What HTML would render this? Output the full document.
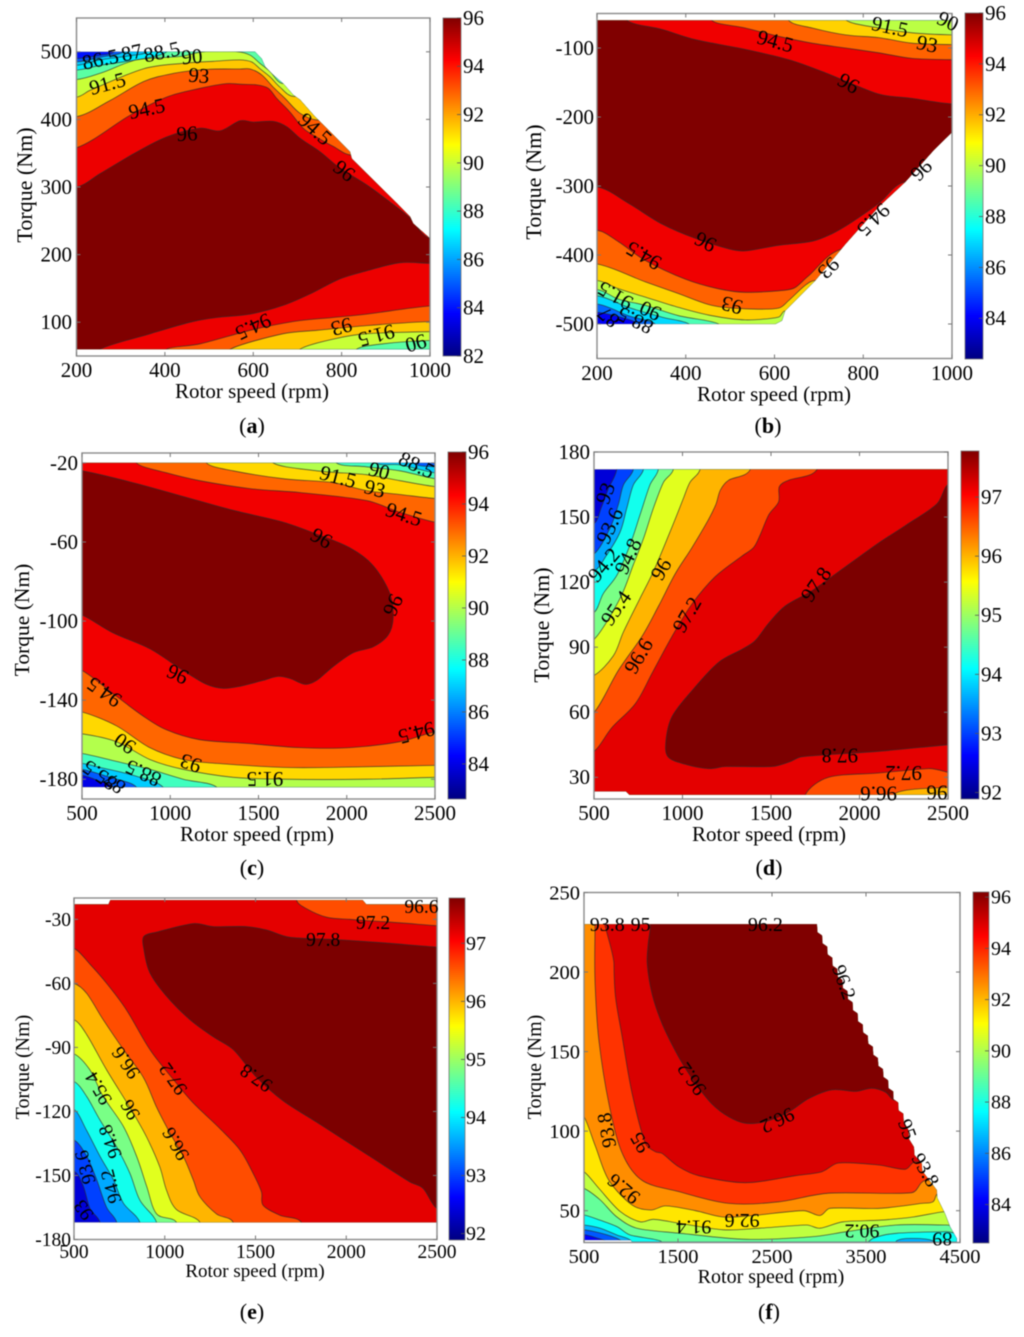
<!DOCTYPE html>
<html lang="en">
<head>
<meta charset="utf-8">
<title>Efficiency contour maps</title>
<style>
html,body{margin:0;padding:0;background:#fff;}
svg{display:block;font-family:"Liberation Serif","Times New Roman",serif;fill:#000;filter:blur(0.4px);}
.caption{font-size:22px;text-anchor:middle;}
.caption tspan.bold{font-weight:bold;}
.xtitle{text-anchor:middle;}
.ytitle{text-anchor:middle;}
</style>
</head>
<body>
<svg id="figure" width="1024" height="1337" viewBox="0 0 1024 1337" xmlns="http://www.w3.org/2000/svg">
<defs>
<linearGradient id="jetGradient" x1="0" y1="1" x2="0" y2="0">
<stop offset="0" stop-color="#000080"/>
<stop offset="0.125" stop-color="#0000ff"/>
<stop offset="0.375" stop-color="#00ffff"/>
<stop offset="0.625" stop-color="#ffff00"/>
<stop offset="0.875" stop-color="#ff0000"/>
<stop offset="1" stop-color="#800000"/>
</linearGradient>
</defs>
<rect x="0" y="0" width="1024" height="1337" fill="#ffffff"/>

<g id="panel-a">
<text class="xtitle" x="252" y="398" font-size="21">Rotor speed (rpm)</text>
<text class="ytitle" transform="translate(32 185) rotate(-90)" font-size="22">Torque (Nm)</text>
<text class="caption" x="252" y="433">(<tspan class="bold">a</tspan>)</text>
</g>
<g id="panel-b">
<text class="xtitle" x="774" y="401" font-size="21">Rotor speed (rpm)</text>
<text class="ytitle" transform="translate(541 182) rotate(-90)" font-size="22">Torque (Nm)</text>
<text class="caption" x="768" y="433">(<tspan class="bold">b</tspan>)</text>
</g>
<g id="panel-c">
<text class="xtitle" x="257" y="841" font-size="21">Rotor speed (rpm)</text>
<text class="ytitle" transform="translate(29 620) rotate(-90)" font-size="21.5">Torque (Nm)</text>
<text class="caption" x="252" y="875">(<tspan class="bold">c</tspan>)</text>
</g>
<g id="panel-d">
<text class="xtitle" x="769" y="841" font-size="21">Rotor speed (rpm)</text>
<text class="ytitle" transform="translate(549 625) rotate(-90)" font-size="22">Torque (Nm)</text>
<text class="caption" x="769" y="875">(<tspan class="bold">d</tspan>)</text>
</g>
<g id="panel-e">
<text class="xtitle" x="255" y="1277" font-size="19">Rotor speed (rpm)</text>
<text class="ytitle" transform="translate(29 1067) rotate(-90)" font-size="20">Torque (Nm)</text>
<text class="caption" x="252" y="1319">(<tspan class="bold">e</tspan>)</text>
</g>
<g id="panel-f">
<text class="xtitle" x="771" y="1283" font-size="20">Rotor speed (rpm)</text>
<text class="ytitle" transform="translate(541 1067) rotate(-90)" font-size="20">Torque (Nm)</text>
<text class="caption" x="769" y="1319">(<tspan class="bold">f</tspan>)</text>
</g>
</svg>

<script>
/* ---------- panel (a) ---------- */
const aXTicks=[200,400,600,800,1000];
const aYTicks=[100,200,300,400,500];
const aBarTicks=[82,84,86,88,90,92,94,96];
const aLevels=[84,85,86.5,87,88.5,90,91.5,93,94.5,96];
const aDomain=[[200,60],[1000,60],[1000,224],[962,246],[955,256],[925,276],[894,296],[857,320],[823,342],[819,352],[774,382],[740,404],[706,429],[691,436],[668,453],[645,466],[627,478],[619,490],[604,500],[200,500]];
const aRegion85=[[200,490],[254,495],[285,500],[285,520],[1100,520],[1100,40],[100,40],[100,490]];
const aRegion865=[[200,485],[254,492],[306,500],[306,520],[1100,520],[1100,40],[100,40],[100,485]];
const aRegion87=[[200,480],[254,488],[329,495],[359,500],[359,520],[1100,520],[1100,40],[100,40],[100,480]];
const aRegion885=[[200,473],[254,480],[352,490],[404,500],[404,520],[1100,520],[1100,40],[100,40],[100,473]];
const aRegion90=[[200,459],[261,470],[336,488],[434,493],[487,500],[565,500],[593,495],[615,483],[638,471],[668,453],[1100,453],[1100,73],[1000,73],[894,68],[834,60],[834,40],[100,40],[100,459]];
const aRegion915=[[200,433],[231,443],[352,475],[442,483],[510,486],[570,488],[596,485],[615,475],[638,463],[660,448],[691,434],[1100,434],[1100,86],[1000,86],[857,83],[781,75],[706,60],[706,40],[100,40],[100,433]];
const aRegion93=[[200,404],[276,428],[352,456],[419,468],[495,474],[570,474.5],[593,474.5],[619,466],[645,448],[672,431],[706,409],[747,399],[1100,399],[1100,101],[1000,101],[857,95],[744,88],[668,83],[548,60],[548,40],[100,40],[100,404]];
const aRegion945=[[200,358],[321,406],[404,433],[480,446],[540,453],[570,452],[608,451],[634,446],[653,431],[683,411],[713,387],[743,374],[781,360],[823,347],[1100,347],[1100,124],[1000,124],[857,112],[781,107],[691,101],[593,88],[480,68],[404,60],[404,40],[100,40],[100,358]];
const aRegion96=[[200,300],[254,320],[329,349],[404,374],[480,387],[525,383],[570,398],[600,396],[645,397],[676,389],[706,372],[751,352],[796,328],[857,303],[909,278],[955,254],[1000,224],[1100,224],[1100,187],[1000,187],[932,188],[857,176],[796,164],[729,142],[668,125],[593,112],[517,107],[457,100],[367,83],[254,60],[254,40],[100,40],[100,300]];
const aRegions=[aRegion85,aRegion865,aRegion87,aRegion885,aRegion90,aRegion915,aRegion93,aRegion945,aRegion96];
const aLabels=[['86.5',254,489,-12],['87',325,499,-12],['88.5',393,500,-12],['90',461,493,-5],['91.5',270,453,-15],['93',477,465,5],['94.5',359,416,-12],['96',450,379,-3],['94.5',740,386,42],['96',806,324,38],['94.5',600,93,155],['93',800,93,165],['91.5',879,80,165],['90',968,69,165]];

/* ---------- panel (b) ---------- */
const bXTicks=[200,400,600,800,1000];
const bYTicks=[-100,-200,-300,-400,-500];
const bBarTicks=[84,86,88,90,92,94,96];
const bLevels=[84,85.5,87,88.5,90,91.5,93,94.5,96];
const bDomain=[[200,-60],[1000,-60],[1000,-222],[959,-248],[895,-294],[835,-330],[760,-384],[692,-437],[624,-481],[617,-495],[602,-500],[200,-500]];
const bRegion855=[[200,-483],[279,-495],[286,-500],[286,-520],[1100,-520],[1100,-30],[100,-30],[100,-483]];
const bRegion87=[[200,-471],[271,-488],[331,-500],[331,-520],[1100,-520],[1100,-30],[100,-30],[100,-471]];
const bRegion885=[[200,-459],[271,-476],[346,-490],[407,-500],[407,-520],[1100,-520],[1100,-30],[100,-30],[100,-459]];
const bRegion90=[[200,-450],[249,-464],[309,-473],[384,-488],[474,-500],[474,-520],[1100,-520],[1100,-30],[100,-30],[100,-450]];
const bRegion915=[[200,-437],[249,-449],[309,-461],[384,-476],[459,-488],[534,-494],[609,-490],[624,-481],[1100,-481],[1100,-81],[1000,-81],[910,-78],[835,-71],[760,-59],[760,-30],[100,-30],[100,-437]];
const bRegion93=[[200,-413],[309,-439],[384,-456],[459,-473],[534,-478],[609,-477],[632,-466],[669,-444],[692,-437],[1100,-437],[1100,-95],[1000,-95],[910,-93],[835,-85],[760,-81],[685,-71],[632,-60],[632,-30],[100,-30],[100,-413]];
const bRegion945=[[200,-364],[249,-381],[309,-408],[399,-435],[474,-449],[534,-454],[624,-451],[647,-447],[677,-430],[756,-391],[1100,-391],[1100,-117],[1000,-117],[910,-115],[835,-107],[760,-100],[685,-93],[609,-83],[534,-71],[459,-60],[459,-30],[100,-30],[100,-364]];
const bRegion96=[[200,-301],[271,-325],[346,-355],[422,-376],[497,-391],[534,-394],[609,-386],[685,-380],[730,-369],[775,-352],[835,-325],[895,-294],[1100,-294],[1100,-181],[1000,-181],[910,-173],[842,-168],[790,-156],[707,-134],[632,-117],[534,-102],[422,-88],[346,-73],[268,-60],[268,-30],[100,-30],[100,-301]];
const bRegions=[bRegion855,bRegion87,bRegion885,bRegion90,bRegion915,bRegion93,bRegion945,bRegion96];
const bLabels=[['94.5',602,-90,15],['91.5',860,-69,12],['93',944,-94,12],['90',991,-61,25],['96',767,-151,30],['96',931,-277,135],['94.5',823,-349,135],['93',722,-419,135],['96',444,-381,207],['94.5',305,-401,210],['93',504,-473,195],['91.5',241,-459,210],['90',320,-481,205],['88.5',286,-495,205],['87',226,-490,220]];

/* ---------- panel (c) ---------- */
const cXTicks=[500,1000,1500,2000,2500];
const cYTicks=[-20,-60,-100,-140,-180];
const cBarTicks=[84,86,88,90,92,94,96];
const cLevels=[84,85.5,87,88.5,90,91.5,93,94.5,96];
const cDomain=[[500,-20],[2500,-20],[2500,-184],[500,-184]];
const cRegion855=[[500,-178],[600,-181],[676,-184],[676,-195],[2600,-195],[2600,-10],[400,-10],[400,-178]];
const cRegion87=[[500,-175],[657,-179],[808,-184],[808,-195],[2600,-195],[2600,-22],[2500,-22],[2377,-20],[2377,-10],[400,-10],[400,-175]];
const cRegion885=[[500,-172],[600,-174],[789,-178],[959,-184],[959,-195],[2600,-195],[2600,-25],[2500,-25],[2301,-21],[2169,-20],[2169,-10],[400,-10],[400,-172]];
const cRegion90=[[500,-167],[695,-171],[884,-175],[1073,-180],[1262,-184],[1262,-195],[2600,-195],[2600,-28],[2500,-28],[2301,-24],[2112,-22],[1942,-20],[1942,-10],[400,-10],[400,-167]];
const cRegion915=[[500,-157],[695,-161],[884,-170],[1073,-175],[1356,-179],[1640,-180],[2112,-180],[2500,-179],[2600,-179],[2600,-32],[2500,-32],[2301,-29],[2112,-26],[1829,-24],[1583,-20],[1583,-10],[400,-10],[400,-157]];
const cRegion93=[[500,-146],[695,-153],[884,-164],[1073,-170],[1262,-172],[1640,-174],[1923,-174],[2500,-173],[2600,-173],[2600,-38],[2500,-38],[2301,-36],[2112,-34],[1923,-30],[1640,-28],[1356,-24],[1205,-20],[1205,-10],[400,-10],[400,-146]];
const cRegion945=[[500,-125],[695,-138],[846,-148],[978,-155],[1167,-160],[1451,-162],[1734,-164],[2018,-164],[2301,-161],[2500,-156],[2600,-156],[2600,-50],[2500,-50],[2301,-45],[2112,-39],[1734,-35],[1451,-33],[1167,-29],[978,-25],[808,-20],[808,-10],[400,-10],[400,-125]];
const cRegion96=[[500,-24],[789,-30],[1073,-37],[1356,-44],[1640,-50],[1829,-56],[2018,-63],[2150,-72],[2244,-86],[2263,-98],[2235,-107],[2150,-113],[2037,-116],[1923,-123],[1829,-130],[1763,-132],[1678,-129],[1611,-128],[1526,-130],[1394,-133],[1300,-134],[1205,-132],[1073,-125],[884,-114],[676,-106],[500,-97],[400,-97],[400,-24]];
const cRegions=[cRegion855,cRegion87,cRegion885,cRegion90,cRegion915,cRegion93,cRegion945,cRegion96];
const cLabels=[['88.5',2396,-21,25],['90',2184,-24,15],['91.5',1951,-27,15],['93',2159,-33,15],['94.5',2324,-46,18],['96',1857,-58,30],['96',2263,-92,115],['96',1041,-127,205],['94.5',625,-136,215],['90',742,-162,215],['93',1116,-172,200],['91.5',1536,-180,180],['94.5',2396,-156.5,165],['88.5',846,-177,205],['85.5',600,-178,215],['87',685,-182,220]];

/* ---------- panel (d) ---------- */
const dXTicks=[500,1000,1500,2000,2500];
const dYTicks=[30,60,90,120,150,180];
const dBarTicks=[92,93,94,95,96,97];
const dLevels=[92.4,93,93.6,94.2,94.8,95.4,96,96.6,97.2,97.8];
const dDomain=[[500,23.5],[680,23.5],[700,22],[2500,22],[2500,172],[500,172]];
const dRegion93=[[628,172],[581,163],[543,154.8],[500,147],[400,147],[400,10],[2600,10],[2600,190],[628,190]];
const dRegion936=[[722,172],[666,164.8],[637,155.6],[590,144.8],[500,133],[400,133],[400,10],[2600,10],[2600,190],[722,190]];
const dRegion942=[[779,172],[722,164.8],[685,154],[647,143],[572,132.5],[500,125],[400,125],[400,10],[2600,10],[2600,190],[779,190]];
const dRegion948=[[863,172],[816,164.8],[760,151],[703,137],[628,123],[553,114.8],[500,106],[400,106],[400,10],[2600,10],[2600,190],[863,190]];
const dRegion954=[[948,172],[892,166],[835,154],[779,140],[722,128],[647,112.5],[500,93.6],[400,93.6],[400,10],[2600,10],[2600,190],[948,190]];
const dRegion96=[[1099,172],[1042,166],[1005,158.6],[929,143],[835,124.8],[760,112.5],[666,97],[609,86],[500,77],[400,77],[400,10],[2600,10],[2600,190],[1099,190]];
const dRegion966=[[1383,172],[1261,167],[1214,162.5],[1189,156],[1148,149],[1054,136],[960,124],[865,109],[771,95],[639,79.5],[500,60],[400,60],[400,10],[2200,10],[2200,22.5],[2500,25.4],[2600,25.4],[2600,190],[1383,190]];
const dRegion972=[[1760,172],[1600,167],[1547,164],[1543,157],[1487,151],[1440,142],[1402,136],[1336,132],[1185,122.5],[1054,110],[941,95],[828,78],[734,64],[602,53],[500,42],[400,42],[400,10],[1694,10],[1694,22],[1826,30],[2108,32],[2391,34],[2600,34],[2600,190],[1760,190]];
const dRegion978=[[2500,165],[2437,156],[2259,146],[2108,138],[1920,127],[1731,116],[1581,109],[1487,101],[1411,93],[1336,89],[1204,83],[1054,70],[941,58],[907,47],[918,39.5],[1016,36],[1148,34],[1242,35],[1505,35],[1600,37],[1675,39.5],[2108,42],[2500,45],[2600,45],[2600,165]];
const dRegions=[dRegion93,dRegion936,dRegion942,dRegion948,dRegion954,dRegion96,dRegion966,dRegion972,dRegion978];
const dLabels=[['93',564,161,-70],['93.6',588,146,-65],['94.2',555,128,-50],['94.8',692,132,-65],['95.4',624,108,-55],['96',878,126,-60],['96.6',752,86,-60],['97.2',1025,105,-60],['97.8',1754,119,-55],['97.8',1888,40,180],['97.2',2249,32,180],['96.6',2108,22.6,180],['96',2438,23,180]];

/* ---------- panel (e) ---------- */
const eXTicks=[500,1000,1500,2000,2500];
const eYTicks=[-30,-60,-90,-120,-150,-180];
const eBarTicks=[92,93,94,95,96,97];
const eLevels=[92.4,93,93.6,94.2,94.8,95.4,96,96.6,97.2,97.8];
const eDomain=[[500,-23],[690,-23],[700,-21],[2090,-21],[2111,-23],[2500,-23],[2500,-172],[500,-172]];
const eRegion93=[[500,-148],[551,-155],[588,-165.5],[643,-172],[643,-185],[2600,-185],[2600,-10],[400,-10],[400,-148]];
const eRegion936=[[500,-133.4],[570,-141],[625,-152],[680,-165],[735,-172],[735,-185],[2600,-185],[2600,-10],[400,-10],[400,-133.4]];
const eRegion942=[[500,-119],[570,-129],[643,-141],[717,-152],[772,-163],[863,-172],[863,-185],[2600,-185],[2600,-10],[400,-10],[400,-119]];
const eRegion948=[[500,-106],[570,-113],[643,-124],[735,-136.6],[808,-149],[863,-161.6],[955,-172],[955,-185],[2600,-185],[2600,-10],[400,-10],[400,-106]];
const eRegion954=[[500,-93],[588,-100.6],[661,-113],[772,-127],[845,-141],[900,-155],[955,-168],[1065,-172],[1065,-185],[2600,-185],[2600,-10],[400,-10],[400,-93]];
const eRegion96=[[500,-77],[570,-84],[680,-100.6],[814,-119],[900,-132],[973,-146],[1010,-157],[1065,-166],[1194,-172],[1194,-185],[2600,-185],[2600,-10],[400,-10],[400,-77]];
const eRegion966=[[500,-60],[570,-64.7],[661,-77],[772,-91],[882,-104],[955,-118],[1028,-130],[1102,-141],[1157,-152],[1194,-160],[1285,-168],[1377,-172],[1377,-185],[2600,-185],[2600,-10],[400,-10],[400,-60]];
const eRegion972=[[500,-43.6],[588,-51],[680,-60],[790,-72.5],[918,-91],[1047,-105],[1157,-116],[1304,-128],[1414,-138],[1487,-149],[1533,-157.7],[1542,-164],[1634,-168.6],[1753,-172],[1753,-185],[2600,-185],[2600,-33],[2500,-33],[2295,-31.6],[2111,-30.6],[2019,-30],[1891,-29],[1781,-25],[1726,-21],[1726,-10],[400,-10],[400,-43.6]];
const eRegion978=[[885,-38],[955,-36],[1157,-32],[1267,-33.4],[1451,-33.4],[1561,-35],[1689,-38.4],[1928,-39.4],[2203,-41],[2500,-43],[2600,-43],[2600,-165.5],[2500,-165.5],[2423,-156],[2350,-153],[2111,-140],[1836,-125],[1652,-115],[1506,-104],[1377,-91],[1267,-85],[1139,-77],[1010,-66],[918,-55],[885,-44]];
const eRegions=[eRegion93,eRegion936,eRegion942,eRegion948,eRegion954,eRegion96,eRegion966,eRegion972,eRegion978];
const eLabels=[['96.6',2414,-24.5,0],['97.2',2148,-32,0],['97.8',1873,-40,0],['96.6',790,-97,235],['97.2',1050,-104.5,235],['97.8',1506,-104,215],['95.4',639,-109,240],['96',814,-119,240],['96.6',1065,-135,240],['94.8',704,-134,250],['93.6',566,-146,255],['94.2',708,-155,255],['93',557,-166,235]];

/* ---------- panel (f) ---------- */
const fXTicks=[500,1500,2500,3500,4500];
const fYTicks=[50,100,150,200,250];
const fBarTicks=[84,86,88,90,92,94,96];
const fLevels=[84.2,85.4,86.6,87.8,89,90.2,91.4,92.6,93.8,95,96.2];
const fDomain=[[500,31.5],[1000,31.5],[1010,30.5],[4465,30.5],[4465,32.6],[4394,40],[4341,48],[4258,58],[4252,63],[4098,75],[4093,79.7],[4015,85],[4010,90],[3957,95],[3952,100.6],[3901,106],[3896,111],[3847,113],[3842,118],[3793,120],[3788,125],[3739,127],[3734,132],[3685,134],[3680,139],[3631,141],[3626,146],[3577,148],[3572,153],[3523,155],[3518,160],[3469,162],[3464,167],[3415,169],[3410,174],[3361,176],[3356,181],[3307,183],[3302,188],[3253,190],[3248,195],[3199,197],[3194,202],[3145,204],[3140,209],[3091,211],[3086,216],[3037,218],[3032,223],[2983,225],[2978,230],[500,230]];
const fRegion854=[[500,35],[627,33],[766,30],[766,25],[4600,25],[4600,260],[400,260],[400,35]];
const fRegion866=[[500,38],[673,36],[850,32.6],[907,30],[907,25],[4600,25],[4600,260],[400,260],[400,38]];
const fRegion878=[[500,41],[673,39],[850,34.7],[992,31.6],[1050,25],[3800,25],[3824,31],[3987,32.6],[4213,31],[4250,25],[4600,25],[4600,260],[400,260],[400,41]];
const fRegion89=[[500,47.3],[673,44],[850,40],[992,34.7],[1311,31],[1400,25],[3400,25],[3576,32.6],[3824,35.8],[4355,36.8],[4600,36.8],[4600,260],[400,260],[400,47.3]];
const fRegion902=[[500,64],[673,56.7],[850,46],[1063,39],[1523,35.8],[2231,32],[2939,33.7],[3293,36.8],[3824,41],[4355,41],[4600,41],[4600,260],[400,260],[400,64]];
const fRegion914=[[500,74.5],[659,64],[886,49.4],[1098,43],[1240,44.6],[1523,42],[1983,38],[2373,39],[2868,41],[3010,39],[3258,43],[3647,44],[4001,46],[4337,49.4],[4600,49.4],[4600,260],[400,260],[400,74.5]];
const fRegion926=[[500,109],[624,90],[766,69],[1013,53.5],[1209,50.4],[1368,53],[1686,50],[1983,46],[2302,47],[2833,50],[3010,47],[3116,51.5],[3647,51.5],[4093,54.6],[4213,55.6],[4270,61],[4600,61],[4600,260],[400,260],[400,109]];
const fRegion938=[[617,260],[617,230],[617,194.6],[659,157],[766,117],[907,86],[1120,69],[1509,62],[2040,54.6],[2571,55.6],[3102,61],[3987,61.3],[4128,69],[4600,69],[4600,260]];
const fRegion95=[[819,260],[819,205],[836,184],[907,159],[1013,123.5],[1155,92],[1261,87],[1332,86],[1509,77.6],[1721,72],[2217,67.6],[2748,72],[3031,74.5],[3208,80],[3633,78.7],[3916,76],[4022,80.7],[4600,80.7],[4600,260]];
const fRegion962=[[1208,260],[1208,230],[1183,217.6],[1173,205],[1226,186],[1332,167.5],[1509,146.5],[1686,130],[1863,117],[2040,109],[2217,105],[2429,106],[2677,112],[2890,120.5],[3137,126],[3385,125],[3562,127],[3704,124.6],[3810,119.4],[4600,119.4],[4600,260]];
const fRegions=[fRegion854,fRegion866,fRegion878,fRegion89,fRegion902,fRegion914,fRegion926,fRegion938,fRegion95,fRegion962];
const fLabels=[['93.8',748,229.5,0],['95',1102,229.5,0],['96.2',2429,229.5,0],['96.2',3261,193.6,70],['96.2',1650,133,235],['96.2',2553,107,155],['93.8',748,100.6,260],['95',1102,93,240],['92.6',925,64,220],['92.6',2182,44,180],['91.4',1668,40,180],['90.2',3456,37.5,180],['89',4312,32.6,180],['95',3934,101,70],['93.8',4128,75.5,60]];

/* ---------- drawing helpers ---------- */
const svgNS='http://www.w3.org/2000/svg';
function make(parent,tag,attrs,text){
  const el=document.createElementNS(svgNS,tag);
  for(const k in attrs){el.setAttribute(k,attrs[k]);}
  if(text!==undefined){el.textContent=text;}
  parent.appendChild(el);
  return el;
}
function jet(t){
  const c=v=>Math.round(255*Math.max(0,Math.min(1,v)));
  const r=c(Math.min(4*t-1.5,-4*t+4.5));
  const g=c(Math.min(4*t-0.5,-4*t+3.5));
  const b=c(Math.min(4*t+0.5,-4*t+2.5));
  return 'rgb('+r+','+g+','+b+')';
}
/* closed Catmull-Rom outline with handles limited to a share of each segment */
function smoothOutline(P){
  const n=P.length;
  const handle=(a,b,seg)=>{
    let hx=(b[0]-a[0])/6,hy=(b[1]-a[1])/6;
    const len=Math.hypot(hx,hy),limit=0.35*seg;
    if(len>limit&&len>0){hx*=limit/len;hy*=limit/len;}
    return [hx,hy];
  };
  let d='M'+P[0][0].toFixed(1)+' '+P[0][1].toFixed(1);
  for(let i=0;i<n;i++){
    const p0=P[(i-1+n)%n],p1=P[i],p2=P[(i+1)%n],p3=P[(i+2)%n];
    const seg=Math.hypot(p2[0]-p1[0],p2[1]-p1[1]);
    const h1=handle(p0,p2,seg),h2=handle(p1,p3,seg);
    d+=' C'+(p1[0]+h1[0]).toFixed(1)+' '+(p1[1]+h1[1]).toFixed(1)+' '+(p2[0]-h2[0]).toFixed(1)+' '+(p2[1]-h2[1]).toFixed(1)+' '+p2[0].toFixed(1)+' '+p2[1].toFixed(1);
  }
  return d+'Z';
}
function drawPanel(id,g,domain,levels,regions,xTicks,yTicks,barTicks,labels){
  const root=document.getElementById('panel-'+id);
  const sx=v=>g.left+(v-g.xMin)/(g.xMax-g.xMin)*(g.right-g.left);
  const sy=v=>g.bottom-(v-g.yMin)/(g.yMax-g.yMin)*(g.bottom-g.top);
  const cy=v=>g.barBottom-(v-g.cMin)/(g.cMax-g.cMin)*(g.barBottom-g.barTop);
  const color=v=>jet((v-g.cMin)/(g.cMax-g.cMin));
  const pts=a=>a.map(p=>sx(p[0]).toFixed(1)+','+sy(p[1]).toFixed(1)).join(' ');

  const clip=make(root,'clipPath',{id:'clip-'+id});
  make(clip,'polygon',{points:pts(domain)});

  const bands=make(root,'g',{'clip-path':'url(#clip-'+id+')'});
  
  
  const base=make(bands,'polygon',{points:pts(domain),fill:color(levels[0]),stroke:'none'});
  
  
  regions.forEach((region,i)=>{
    const outlinePts=region.map(p=>[sx(p[0]),sy(p[1])]);
    const band=make(bands,'path',{d:smoothOutline(outlinePts),fill:color(levels[i+1]),stroke:'#2a2a2a','stroke-width':'0.8','stroke-opacity':'0.75','stroke-linejoin':'round'});
    
    
  });
  const outline=make(root,'polygon',{points:pts(domain),fill:'none',stroke:'#444','stroke-width':'0.5','stroke-opacity':'0.5'});
  
  

  const box=make(root,'rect',{x:g.left,y:g.top,width:g.right-g.left,height:g.bottom-g.top,fill:'none',stroke:'#8a8a8a','stroke-width':'1.4'});
  
  

  xTicks.forEach(v=>{
    const x=sx(v);
    const lo=make(root,'line',{x1:x,x2:x,y1:g.bottom,y2:g.bottom-4,stroke:'#777','stroke-width':'1'});
    
    
    const hi=make(root,'line',{x1:x,x2:x,y1:g.top,y2:g.top+4,stroke:'#777','stroke-width':'1'});
    
    
    const t=make(root,'text',{x:x,y:g.xTickY,'font-size':g.tickSize,'text-anchor':'middle'},String(v));
    
    
  });
  yTicks.forEach(v=>{
    const y=sy(v);
    const lo=make(root,'line',{x1:g.left,x2:g.left+4,y1:y,y2:y,stroke:'#777','stroke-width':'1'});
    
    
    const hi=make(root,'line',{x1:g.right,x2:g.right-4,y1:y,y2:y,stroke:'#777','stroke-width':'1'});
    
    
    const t=make(root,'text',{x:g.yTickX,y:y+g.tickSize*0.33,'font-size':g.tickSize,'text-anchor':'end'},String(v));
    
    
  });

  labels.forEach(l=>{
    const x=sx(l[1]),y=sy(l[2]);
    const t=make(root,'text',{x:x,y:y,'font-size':g.labelSize,'text-anchor':'middle','dominant-baseline':'central',transform:'rotate('+l[3]+' '+x.toFixed(1)+' '+y.toFixed(1)+')'},l[0]);
    
    
  });

  const bar=make(root,'rect',{x:g.barLeft,y:g.barTop,width:g.barRight-g.barLeft,height:g.barBottom-g.barTop,fill:'url(#jetGradient)',stroke:'#777','stroke-width':'0.8'});
  
  
  barTicks.forEach(v=>{
    const y=cy(v);
    const tk=make(root,'line',{x1:g.barRight,x2:g.barRight-4,y1:y,y2:y,stroke:'#555','stroke-width':'0.8'});
    
    
    const t=make(root,'text',{x:g.barLabelX,y:y+g.barSize*0.33,'font-size':g.barSize},String(v));
    
    
  });
}

drawPanel('a',{left:76.5,right:430,top:18,bottom:356,xMin:200,xMax:1000,yMin:50,yMax:550,cMin:82,cMax:96,barLeft:443,barRight:461,barTop:18,barBottom:356,barLabelX:463,xTickY:377,yTickX:72,tickSize:21,labelSize:21,barSize:21},aDomain,aLevels,aRegions,aXTicks,aYTicks,aBarTicks,aLabels);
drawPanel('b',{left:597,right:952,top:13.5,bottom:358.5,xMin:200,xMax:1000,yMin:-550,yMax:-50,cMin:82.4,cMax:96,barLeft:965,barRight:983,barTop:13,barBottom:359,barLabelX:985,xTickY:380,yTickX:594,tickSize:21,labelSize:21,barSize:21},bDomain,bLevels,bRegions,bXTicks,bYTicks,bBarTicks,bLabels);
drawPanel('c',{left:82,right:435,top:453,bottom:799,xMin:500,xMax:2500,yMin:-190,yMax:-15,cMin:82.65,cMax:96,barLeft:448,barRight:466,barTop:452,barBottom:799,barLabelX:468,xTickY:820,yTickX:78,tickSize:21,labelSize:21,barSize:21},cDomain,cLevels,cRegions,cXTicks,cYTicks,cBarTicks,cLabels);
drawPanel('d',{left:594,right:948,top:452,bottom:799,xMin:500,xMax:2500,yMin:20,yMax:180,cMin:91.89,cMax:97.78,barLeft:961,barRight:979,barTop:451,barBottom:799,barLabelX:981,xTickY:820,yTickX:590,tickSize:21,labelSize:21,barSize:21},dDomain,dLevels,dRegions,dXTicks,dYTicks,dBarTicks,dLabels);
drawPanel('e',{left:74,right:437,top:898,bottom:1239.5,xMin:500,xMax:2500,yMin:-180,yMax:-20,cMin:91.89,cMax:97.78,barLeft:449,barRight:465,barTop:898,barBottom:1240,barLabelX:466,xTickY:1258,yTickX:71,tickSize:19.5,labelSize:19.5,barSize:20},eDomain,eLevels,eRegions,eXTicks,eYTicks,eBarTicks,eLabels);
drawPanel('f',{left:584,right:960,top:892.5,bottom:1242.5,xMin:500,xMax:4500,yMin:30,yMax:250,cMin:82.5,cMax:96.2,barLeft:973,barRight:989,barTop:892,barBottom:1243,barLabelX:991,xTickY:1263,yTickX:580,tickSize:20.5,labelSize:20,barSize:20},fDomain,fLevels,fRegions,fXTicks,fYTicks,fBarTicks,fLabels);
</script>
</body>
</html>
